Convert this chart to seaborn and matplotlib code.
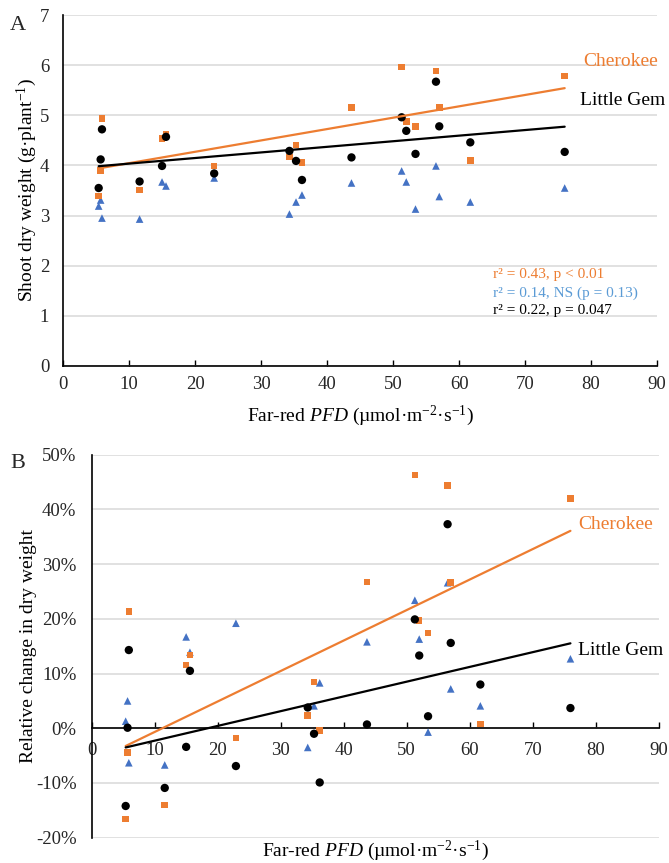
import matplotlib
matplotlib.use('Agg')
import matplotlib.pyplot as plt
import seaborn as sns
import numpy as np
import pandas as pd
from matplotlib.ticker import FuncFormatter

# ---------------- data ----------------
# Far-red PFD of each treatment (µmol m-2 s-1)
far_red = [5.4, 5.7, 5.9, 11.6, 15.0, 15.6, 22.9, 34.3, 35.3, 36.2,
           43.7, 51.3, 52.0, 53.4, 56.5, 57.0, 61.7, 76.0]

# Panel A: shoot dry weight (g plant-1)
a_cherokee = [3.39, 3.90, 4.94, 3.51, 4.54, 4.62, 3.99, 4.17, 4.41, 4.06,
              5.16, 5.96, 4.88, 4.78, 5.88, 5.16, 4.10, 5.78]
a_little_gem = [3.55, 4.12, 4.72, 3.68, 3.99, 4.57, 3.84, 4.29, 4.09, 3.71,
                4.16, 4.96, 4.69, 4.23, 5.67, 4.78, 4.46, 4.27]
a_third = [3.19, 3.31, 2.95, 2.93, 3.67, 3.59, 3.75, 3.03, 3.27, 3.41,
           3.65, 3.89, 3.67, 3.13, 3.99, 3.38, 3.27, 3.55]

# Panel B: relative change in dry weight (%)
b_cherokee = [-16.6, -4.4, 21.3, -14.0, 11.6, 13.4, -1.8, 2.3, 8.5, -0.4,
              26.7, 46.3, 19.7, 17.4, 44.4, 26.6, 0.8, 42.0]
b_little_gem = [-14.2, 0.1, 14.3, -10.9, -3.4, 10.5, -6.9, 3.8, -1.0, -9.9,
                0.7, 19.9, 13.3, 2.2, 37.3, 15.6, 8.0, 3.7]
b_third = [1.3, 5.0, -6.3, -6.7, 16.7, 13.9, 19.2, -3.5, 4.1, 8.3,
           15.8, 23.4, 16.3, -0.7, 26.6, 7.2, 4.1, 12.7]

x_ticks = [0, 10, 20, 30, 40, 50, 60, 70, 80, 90]
a_yticks = [0, 1, 2, 3, 4, 5, 6, 7]
b_yticks = [-20, -10, 0, 10, 20, 30, 40, 50]

stats_text = ["r² = 0.43, p < 0.01", "r² = 0.14, NS (p = 0.13)", "r² = 0.22, p = 0.047"]

# ---------------- style ----------------
sns.set_theme(style='white')
plt.rcParams['font.family'] = ['Liberation Serif', 'DejaVu Serif']
plt.rcParams['mathtext.fontset'] = 'custom'
plt.rcParams['mathtext.rm'] = 'Liberation Serif'
plt.rcParams['mathtext.it'] = 'Liberation Serif:italic'

ORANGE = '#ED7D31'
BLUE = '#4472C4'
LIGHTBLUE = '#5B9BD5'
BLACK = '#000000'
GRID = '#D9D9D9'
TICK_FS = 13.5
LAB_FS = 14

df_a = pd.DataFrame({'x': far_red, 'cher': a_cherokee, 'lg': a_little_gem, 'third': a_third})
df_b = pd.DataFrame({'x': far_red, 'cher': b_cherokee, 'lg': b_little_gem, 'third': b_third})

fig = plt.figure(figsize=(6.69, 8.63), dpi=100)
axA = fig.add_axes([0.0942, 0.5759, 0.888, 0.4067])
axB = fig.add_axes([0.137, 0.0293, 0.8475, 0.4438])

xlabel = r'Far-red $\mathit{PFD}$ (µmol·m$^{\mathregular{-2}}$·s$^{\mathregular{-1}}$)'


def draw(ax, df, ymin, ymax):
    ax.set_axisbelow(True)
    sns.scatterplot(data=df, x='x', y='third', ax=ax, marker='^', color=BLUE,
                    s=30, edgecolor='none', zorder=3)
    sns.scatterplot(data=df, x='x', y='cher', ax=ax, marker='s', color=ORANGE,
                    s=22, edgecolor='none', zorder=3)
    sns.scatterplot(data=df, x='x', y='lg', ax=ax, marker='o', color=BLACK,
                    s=36, edgecolor='none', zorder=4)
    sns.regplot(data=df, x='x', y='cher', ax=ax, scatter=False, ci=None,
                truncate=True, line_kws={'color': ORANGE, 'lw': 1.6, 'zorder': 5})
    sns.regplot(data=df, x='x', y='lg', ax=ax, scatter=False, ci=None,
                truncate=True, line_kws={'color': BLACK, 'lw': 1.6, 'zorder': 5})
    ax.set_xlim(0, 90)
    ax.set_ylim(ymin, ymax)
    ax.set_xticks(x_ticks)
    ax.grid(axis='y', color=GRID, lw=1.1)
    ax.grid(axis='x', visible=False)
    for s in ['top', 'right']:
        ax.spines[s].set_visible(False)
    for s in ['left', 'bottom']:
        ax.spines[s].set_color('black')
        ax.spines[s].set_linewidth(1.2)
    ax.tick_params(axis='x', direction='in', length=4, width=1, color='black',
                   labelsize=TICK_FS, labelcolor='#262626', bottom=True)
    ax.tick_params(axis='y', length=0, labelsize=TICK_FS, labelcolor='#262626')


# ---- Panel A ----
draw(axA, df_a, 0, 7)
axA.set_yticks(a_yticks)
axA.tick_params(axis='x', pad=7)
axA.tick_params(axis='y', pad=10)
axA.set_xlabel(xlabel, fontsize=LAB_FS, color='black')
axA.xaxis.set_label_coords(0.5, -0.108)
axA.set_ylabel('Shoot dry weight (g·plant$^{\\mathregular{-1}}$)', fontsize=LAB_FS, color='black')
axA.yaxis.set_label_coords(-0.04, 0.5)
axA.text(78.8, 6.07, 'Cherokee', color=ORANGE, fontsize=LAB_FS, ha='left', va='center')
axA.text(78.3, 5.29, 'Little Gem', color=BLACK, fontsize=LAB_FS, ha='left', va='center')
for txt, yy, c in zip(stats_text, [1.82, 1.45, 1.10], [ORANGE, LIGHTBLUE, BLACK]):
    axA.text(65.2, yy, txt, color=c, fontsize=11, ha='left', va='center')
fig.text(18 / 669, 1 - 25 / 863, 'A', fontsize=16, ha='center', va='center')

# ---- Panel B ----
draw(axB, df_b, -20, 50)
axB.set_yticks(b_yticks)
axB.yaxis.set_major_formatter(FuncFormatter(lambda v, p: f'{v:.0f}%'))
axB.spines['bottom'].set_position(('data', 0))
axB.tick_params(axis='x', pad=10)
axB.tick_params(axis='y', pad=11)
axB.set_xlabel('')
fig.text(0.137 + 0.8475 / 2, 1 - 856 / 863, xlabel, fontsize=LAB_FS,
         ha='center', va='baseline', color='black')
axB.set_ylabel('Relative change in dry weight', fontsize=LAB_FS, color='black')
axB.yaxis.set_label_coords(-0.097, 0.5)
axB.text(77.2, 37.3, 'Cherokee', color=ORANGE, fontsize=LAB_FS, ha='left', va='center')
axB.text(77.2, 14.3, 'Little Gem', color=BLACK, fontsize=LAB_FS, ha='left', va='center')
fig.text(18 / 669, 1 - 463 / 863, 'B', fontsize=16, ha='center', va='center')

fig.savefig('out.png', dpi=100)
